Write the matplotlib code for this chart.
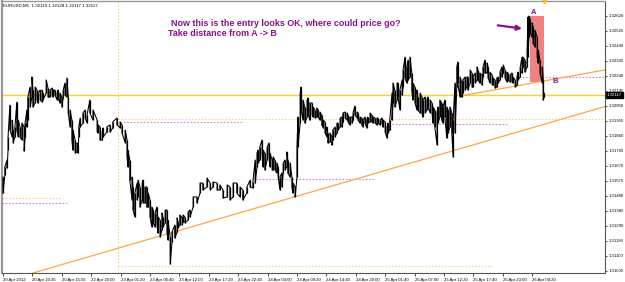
import matplotlib
matplotlib.use("Agg")
import matplotlib.pyplot as plt
from matplotlib.patches import Rectangle

plt.rcParams['font.family'] = ['Liberation Sans', 'DejaVu Sans']

# EURUSD M5 - bar number (0 = first bar on screen), high and low
bars = [0, 4, 9, 11, 15, 20, 22, 26, 30, 33, 37, 41, 46, 48, 52, 54, 59, 63, 65, 70,
        74, 76, 81, 85, 87, 94, 98, 102, 107, 109, 113, 118, 120, 124, 128, 131, 135, 139, 142, 146,
        150, 152, 157, 161, 163, 165, 168, 174, 179, 183, 189, 196, 205, 207, 211, 216, 218, 226, 233, 239,
        248, 255, 259, 266, 270, 272, 276, 281, 283, 287, 292, 294, 298, 303, 305, 309, 313, 316, 320, 324,
        327, 331, 335, 337, 342, 346, 348, 353, 357, 359, 364, 368, 374, 379, 381, 385, 390, 392, 396, 403,
        407, 414, 422, 429, 435, 444, 451, 457, 466, 472, 479, 488, 494, 501, 509, 516, 522, 531, 538, 544,
        549, 553, 555, 559, 564, 566, 570, 575, 579, 581, 586, 588, 592, 596, 599, 603, 607, 610, 614, 618,
        620, 625, 629, 631, 636, 640, 642, 647, 649, 653, 657, 662, 664, 668, 673, 675, 679, 683, 686, 690,
        694, 697, 701, 705, 707, 712, 716, 718, 723, 727, 729, 734, 738, 740, 745, 749, 751, 755, 760, 762,
        766, 771, 773, 777, 781, 784, 788, 792, 794, 799, 803, 805, 810, 814, 816, 821, 825, 827, 832, 836,
        838, 842, 847, 849, 853, 858, 860, 864, 869, 871, 875, 879, 882, 886, 890, 892, 897, 901, 903, 908,
        912, 914, 919, 923, 925, 930, 934, 936, 940, 945, 947, 951, 955, 958, 962, 966, 969, 973, 977, 980,
        984, 988, 990, 995, 999, 1001, 1006, 1010, 1012, 1017, 1021, 1023, 1028, 1032, 1034, 1038, 1043, 1045, 1049, 1054,
        1056, 1060, 1065, 1067, 1071, 1075, 1078, 1082, 1086, 1089, 1093, 1097, 1099, 1104, 1108, 1110, 1115, 1119, 1121, 1126,
        1130, 1132, 1136, 1141, 1143, 1145, 1148, 1152, 1154, 1158, 1163, 1165, 1169, 1174, 1176, 1178]

highs = [1.31600, 1.31664, 1.31708, 1.31854, 1.32056, 1.31961, 1.31898, 1.31917, 1.32075, 1.31961,
         1.31917, 1.31942, 1.31917, 1.31942, 1.32025, 1.32107, 1.32170, 1.32234, 1.32151, 1.32170,
         1.32151, 1.32132, 1.32151, 1.32151, 1.32132, 1.32215, 1.32164, 1.32151, 1.32164, 1.32151,
         1.32151, 1.32139, 1.32151, 1.32132, 1.32107, 1.32151, 1.32196, 1.32227, 1.32107, 1.32025,
         1.31961, 1.31898, 1.31835, 1.31816, 1.31803, 1.31917, 1.31974, 1.32006, 1.32025, 1.31993,
         1.32088, 1.32025, 1.31961, 1.31930, 1.31917, 1.31885, 1.31911, 1.31917, 1.31930, 1.31949,
         1.31974, 1.31949, 1.31930, 1.31898, 1.31835, 1.31771, 1.31708, 1.31600, 1.31537, 1.31499,
         1.31562, 1.31581, 1.31537, 1.31562, 1.31581, 1.31537, 1.31537, 1.31499, 1.31455, 1.31410,
         1.31391, 1.31372, 1.31410, 1.31347, 1.31328, 1.31372, 1.31347, 1.31391, 1.31391, 1.31328,
         1.31220, 1.31252, 1.31296, 1.31341, 1.31315, 1.31360, 1.31341, 1.31360, 1.31347, 1.31379,
         1.31391, 1.31474, 1.31474, 1.31562, 1.31562, 1.31594, 1.31562, 1.31569, 1.31562, 1.31550,
         1.31518, 1.31550, 1.31537, 1.31562, 1.31562, 1.31537, 1.31518, 1.31537, 1.31581, 1.31569,
         1.31708, 1.31752, 1.31771, 1.31790, 1.31835, 1.31771, 1.31752, 1.31790, 1.31816, 1.31752,
         1.31708, 1.31727, 1.31708, 1.31689, 1.31664, 1.31600, 1.31626, 1.31689, 1.31708, 1.31759,
         1.31708, 1.31689, 1.31600, 1.31562, 1.31537, 1.31790, 1.31980, 1.32132, 1.32170, 1.32088,
         1.32044, 1.32088, 1.32101, 1.32069, 1.32069, 1.32044, 1.32025, 1.32037, 1.32025, 1.32012,
         1.31993, 1.31961, 1.31949, 1.31917, 1.31879, 1.31879, 1.31854, 1.31898, 1.31917, 1.31942,
         1.31942, 1.31974, 1.31980, 1.32006, 1.32012, 1.32006, 1.31993, 1.31980, 1.31980, 1.32006,
         1.32050, 1.32012, 1.32006, 1.31980, 1.31974, 1.31961, 1.31980, 1.31961, 1.31980, 1.32006,
         1.31993, 1.31980, 1.31974, 1.31974, 1.31974, 1.31961, 1.31974, 1.31961, 1.31949, 1.31917,
         1.31942, 1.31961, 1.32132, 1.32196, 1.32151, 1.32196, 1.32196, 1.32151, 1.32215, 1.32278,
         1.32360, 1.32297, 1.32341, 1.32360, 1.32259, 1.32196, 1.32170, 1.32151, 1.32107, 1.32132,
         1.32107, 1.32088, 1.32107, 1.32088, 1.32107, 1.32088, 1.32069, 1.32044, 1.32025, 1.32006,
         1.32044, 1.32088, 1.32069, 1.32044, 1.32088, 1.32044, 1.32025, 1.32044, 1.32006, 1.31961,
         1.32196, 1.32297, 1.32329, 1.32234, 1.32196, 1.32215, 1.32234, 1.32234, 1.32234, 1.32278,
         1.32259, 1.32234, 1.32259, 1.32297, 1.32278, 1.32259, 1.32246, 1.32297, 1.32341, 1.32322,
         1.32297, 1.32265, 1.32246, 1.32227, 1.32215, 1.32227, 1.32234, 1.32265, 1.32297, 1.32310,
         1.32278, 1.32265, 1.32259, 1.32246, 1.32259, 1.32234, 1.32215, 1.32234, 1.32265, 1.32297,
         1.32360, 1.32360, 1.32341, 1.32405, 1.32614, 1.32620, 1.32595, 1.32576, 1.32550, 1.32531,
         1.32487, 1.32405, 1.32341, 1.32297, 1.32215, 1.32132]

lows = [1.31499, 1.31613, 1.31657, 1.31771, 1.31898, 1.31854, 1.31816, 1.31854, 1.31898, 1.31854,
        1.31854, 1.31835, 1.31765, 1.31854, 1.31917, 1.31961, 1.32044, 1.32107, 1.32044, 1.32069,
        1.32088, 1.32069, 1.32088, 1.32075, 1.32088, 1.32132, 1.32107, 1.32107, 1.32120, 1.32107,
        1.32120, 1.32088, 1.32101, 1.32069, 1.32044, 1.32101, 1.32120, 1.32107, 1.32006, 1.31917,
        1.31835, 1.31771, 1.31752, 1.31759, 1.31752, 1.31854, 1.31917, 1.31942, 1.31974, 1.31942,
        1.32006, 1.31961, 1.31885, 1.31879, 1.31835, 1.31835, 1.31854, 1.31885, 1.31885, 1.31911,
        1.31930, 1.31911, 1.31879, 1.31816, 1.31727, 1.31664, 1.31581, 1.31455, 1.31391, 1.31347,
        1.31455, 1.31474, 1.31410, 1.31455, 1.31436, 1.31436, 1.31410, 1.31410, 1.31347, 1.31284,
        1.31309, 1.31284, 1.31309, 1.31246, 1.31220, 1.31265, 1.31284, 1.31309, 1.31246, 1.31201,
        1.31049, 1.31189, 1.31214, 1.31252, 1.31277, 1.31296, 1.31296, 1.31315, 1.31309, 1.31328,
        1.31347, 1.31410, 1.31436, 1.31499, 1.31518, 1.31537, 1.31518, 1.31537, 1.31518, 1.31518,
        1.31467, 1.31474, 1.31455, 1.31474, 1.31499, 1.31474, 1.31455, 1.31499, 1.31537, 1.31531,
        1.31562, 1.31664, 1.31689, 1.31708, 1.31752, 1.31664, 1.31645, 1.31708, 1.31727, 1.31664,
        1.31645, 1.31645, 1.31645, 1.31626, 1.31600, 1.31518, 1.31537, 1.31626, 1.31645, 1.31664,
        1.31626, 1.31600, 1.31537, 1.31499, 1.31474, 1.31600, 1.31790, 1.31942, 1.32025, 1.31961,
        1.31942, 1.31980, 1.32006, 1.31961, 1.31993, 1.31980, 1.31974, 1.31980, 1.31980, 1.31961,
        1.31930, 1.31911, 1.31879, 1.31854, 1.31816, 1.31822, 1.31803, 1.31835, 1.31854, 1.31879,
        1.31898, 1.31917, 1.31917, 1.31949, 1.31974, 1.31961, 1.31949, 1.31930, 1.31942, 1.31961,
        1.31993, 1.31974, 1.31961, 1.31942, 1.31930, 1.31917, 1.31942, 1.31911, 1.31942, 1.31949,
        1.31949, 1.31942, 1.31942, 1.31930, 1.31942, 1.31930, 1.31942, 1.31917, 1.31885, 1.31847,
        1.31879, 1.31898, 1.31961, 1.32069, 1.32044, 1.32088, 1.32107, 1.32025, 1.32120, 1.32170,
        1.32227, 1.32196, 1.32215, 1.32234, 1.32151, 1.32088, 1.32069, 1.32025, 1.32025, 1.32006,
        1.32006, 1.31980, 1.32006, 1.32025, 1.32044, 1.32006, 1.32006, 1.31942, 1.31917, 1.31803,
        1.31942, 1.31980, 1.31961, 1.31942, 1.31980, 1.31847, 1.31879, 1.31917, 1.31879, 1.31727,
        1.31879, 1.32170, 1.32196, 1.32107, 1.32107, 1.32132, 1.32151, 1.32170, 1.32151, 1.32196,
        1.32170, 1.32170, 1.32196, 1.32215, 1.32215, 1.32196, 1.32183, 1.32234, 1.32259, 1.32259,
        1.32227, 1.32196, 1.32183, 1.32183, 1.32164, 1.32170, 1.32196, 1.32215, 1.32234, 1.32259,
        1.32227, 1.32202, 1.32215, 1.32202, 1.32202, 1.32196, 1.32170, 1.32183, 1.32215, 1.32234,
        1.32259, 1.32297, 1.32265, 1.32297, 1.32360, 1.32487, 1.32512, 1.32487, 1.32449, 1.32424,
        1.32360, 1.32322, 1.32259, 1.32196, 1.32088, 1.32107]

time_labels = ["20 Apr 2012", "20 Apr 10:35", "20 Apr 15:55", "22 Apr 20:00", "23 Apr 01:20",
               "23 Apr 06:40", "23 Apr 12:00", "23 Apr 17:20", "23 Apr 22:40", "24 Apr 04:00",
               "24 Apr 09:20", "24 Apr 14:40", "24 Apr 20:00", "25 Apr 01:40", "25 Apr 07:00",
               "25 Apr 12:20", "25 Apr 17:40", "25 Apr 23:00", "26 Apr 04:20"]
bars_per_label = 64

price_ticks = [1.31005, 1.31100, 1.31195, 1.31290, 1.31385, 1.31480, 1.31575, 1.31670, 1.31765,
               1.31860, 1.31955, 1.32050, 1.32145, 1.32240, 1.32335, 1.32430, 1.32525, 1.32620]
last_price = 1.32117

# objects drawn by hand on the chart
hline_price = 1.32117
trend_low = ([65, 1310], [1.30992, 1.32046])
trend_high = ([995, 1310], [1.32113, 1.32278])
box_bars = (1147, 1178)
box_prices = (1.32202, 1.32620)
separator_bar = 250
dotted_yellow = [(1.31467, -2, 128), (1.31967, 250, 1311), (1.31037, 250, 1065)]
dotted_purple = [(1.31436, -2, 139), (1.31949, 255, 522), (1.31588, 542, 810),
                 (1.31936, 847, 1097), (1.32234, 1130, 1311)]

purple = '#8a0f8a'

fig = plt.figure(figsize=(6.25, 2.82), dpi=100)
ax = fig.add_axes([2 / 625, 9 / 282, 603 / 625, 272 / 282])
ax.set_xlim(-2.2, 1310.6)
ax.set_ylim(1.30992, 1.32715)

ax.axvline(separator_bar, color='#f2d68c', lw=0.8, ls=(0, (1.5, 1.5)), zorder=1)
for p, a, b in dotted_yellow:
    ax.plot([a, b], [p, p], color='#f2d68c', lw=0.8, ls=(0, (1.5, 1.5)), zorder=1)
for p, a, b in dotted_purple:
    ax.plot([a, b], [p, p], color='#cf86dc', lw=0.8, ls=(0, (1.5, 1.5)), zorder=1)

ax.add_patch(Rectangle((box_bars[0], box_prices[0]), box_bars[1] - box_bars[0],
                       box_prices[1] - box_prices[0], color='#f08282', lw=0, zorder=2))

ax.axhline(hline_price, color='#ffd21a', lw=1.0, zorder=2)
ax.plot(trend_low[0], trend_low[1], color='#ffa546', lw=0.9, zorder=2)
ax.plot(trend_high[0], trend_high[1], color='#ffa546', lw=0.9, zorder=2)

# price bars: each sample drawn high-to-low, zig-zagging like the dense bar view
zx, zy = [], []
for i, t in enumerate(bars):
    if i % 2 == 0:
        zx += [t, t]
        zy += [highs[i], lows[i]]
    else:
        zx += [t, t]
        zy += [lows[i], highs[i]]
ax.plot(zx, zy, color='black', lw=0.75, zorder=3)
ax.vlines(bars, lows, highs, color='black', lw=0.9, zorder=3)

ax.annotate('', xy=(1136, 1.32538), xytext=(1071, 1.32563),
            arrowprops=dict(arrowstyle='-|>', color=purple, lw=1.6, mutation_scale=7), zorder=4)
ax.text(1154, 1.32640, 'A', color=purple, fontsize=5.5, fontweight='bold', ha='center', va='center', zorder=5)
ax.text(1202, 1.32208, 'B', color=purple, fontsize=5.5, fontweight='bold', ha='center', va='center', zorder=5)

ax.plot([bars[-1]], [1.0], marker='v', ms=3, color='#f0c020', transform=ax.get_xaxis_transform(),
        clip_on=False, zorder=5)

# axes like the terminal window
ax.set_xticks([i * bars_per_label for i in range(len(time_labels))])
ax.set_xticklabels(time_labels, fontsize=3.1, ha='left')
ax.set_yticks(price_ticks)
ax.set_yticklabels(['%.5f' % p for p in price_ticks], fontsize=3.1)
ax.yaxis.tick_right()
ax.tick_params(axis='x', length=2, width=0.5, pad=1.5)
ax.tick_params(axis='y', length=1.5, width=0.5, pad=1.2)
for side in ['left', 'top']:
    ax.spines[side].set_color('#999999')
ax.spines['left'].set_linewidth(1.6)
ax.spines['top'].set_linewidth(1.0)
for side in ['right', 'bottom']:
    ax.spines[side].set_color('#555555')
    ax.spines[side].set_linewidth(0.8)

ax.text(1.003, last_price, '%.5f' % last_price, transform=ax.get_yaxis_transform(),
        fontsize=3.1, color='white', va='center', ha='left', clip_on=False,
        bbox=dict(boxstyle='square,pad=0.25', fc='black', ec='black'))

fig.text(3 / 625, 1 - 6 / 282, 'EURUSD,M5  1.32119 1.32128 1.32117 1.32117', fontsize=3.2, va='center')
fig.text(171 / 625, 1 - 24 / 282, 'Now this is the entry looks OK, where could price go?',
         fontsize=6.4, fontweight='bold', color=purple, va='center')
fig.text(168 / 625, 1 - 33 / 282, 'Take distance from A -> B',
         fontsize=6.4, fontweight='bold', color=purple, va='center')

fig.savefig('out.png', dpi=100)
